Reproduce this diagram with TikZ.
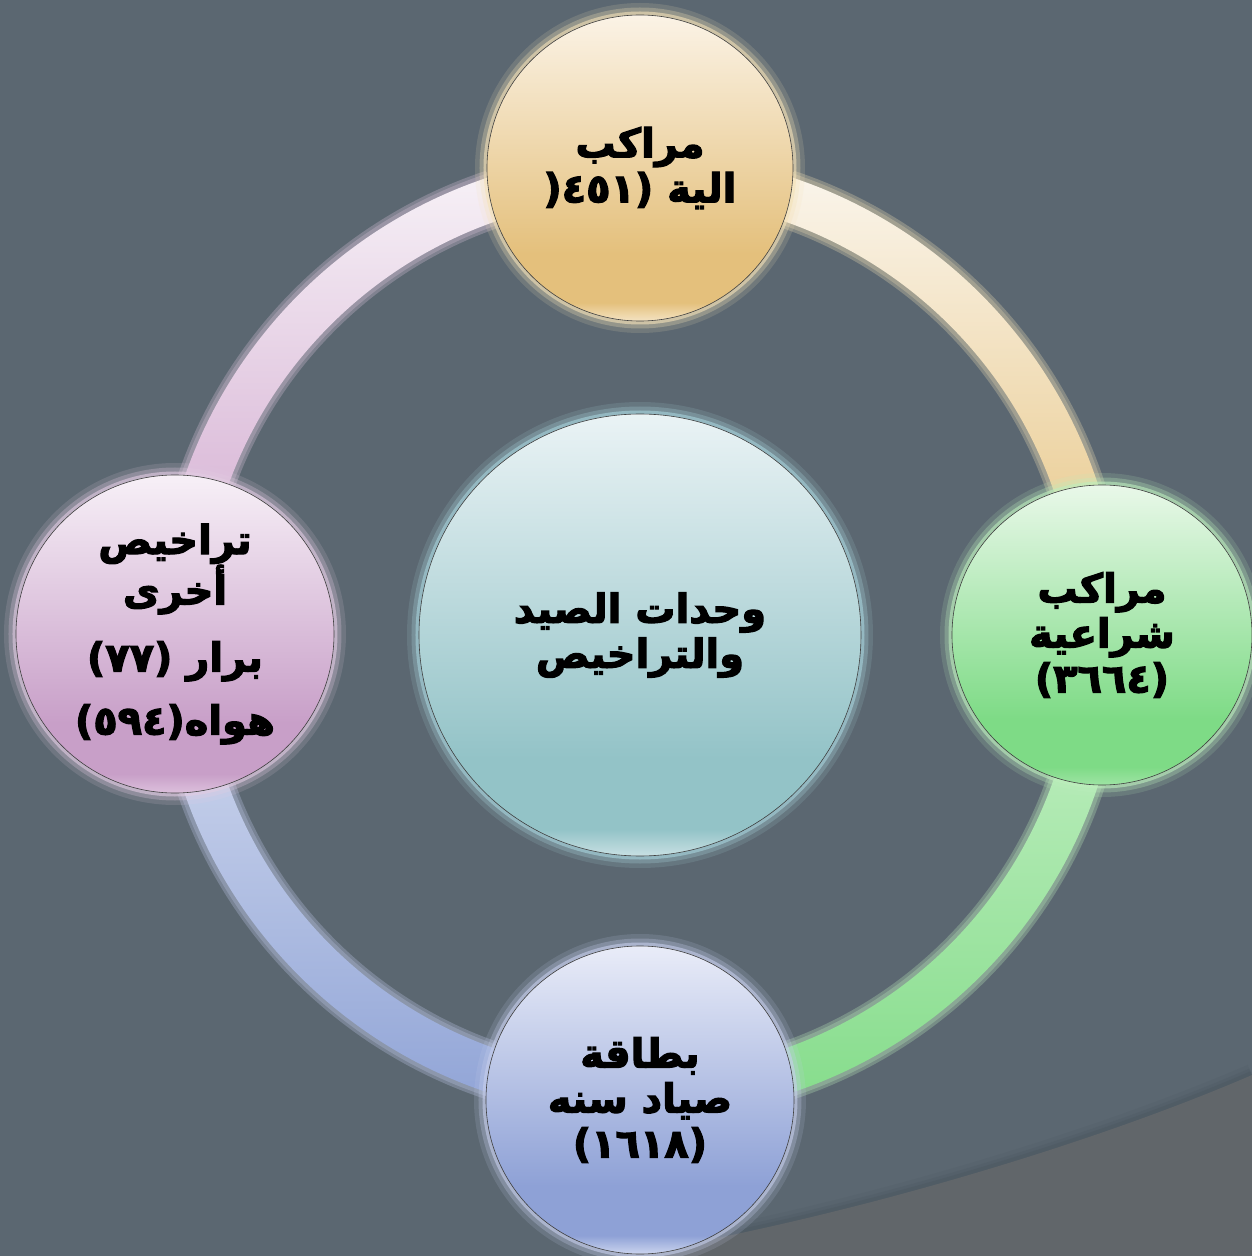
\documentclass[tikz,border=0pt]{standalone}
\usepackage{fontspec}
\newfontfamily\arabicfont[Script=Arabic,BoldFeatures={FakeBold=3}]{DejaVu Sans}
\TeXXeTstate=1
\usetikzlibrary{shapes}
\definecolor{slate}{HTML}{5B6771}
\definecolor{floor}{HTML}{61666A}
\definecolor{shadow}{HTML}{46515A}
% ring colours
\definecolor{goldA}{HTML}{FBF7F0}\definecolor{goldB}{HTML}{E6C27C}\definecolor{goldG}{HTML}{E8D8B0}
\definecolor{greenA}{HTML}{C8F1C8}\definecolor{greenB}{HTML}{84DC8A}\definecolor{greenG}{HTML}{B8E8B8}
\definecolor{blueA}{HTML}{D8DFF1}\definecolor{blueB}{HTML}{8FA3D6}\definecolor{blueG}{HTML}{BCC6E6}
\definecolor{pinkA}{HTML}{F8F4F8}\definecolor{pinkB}{HTML}{CFA3CC}\definecolor{pinkG}{HTML}{D8C2D8}
% unit colours: top, body, rim, glow
\definecolor{hubT}{HTML}{EAF3F5}\definecolor{hubB}{HTML}{93C3C7}\definecolor{hubR}{HTML}{C8E0E3}\definecolor{hubG}{HTML}{A8D4DC}
\definecolor{motT}{HTML}{FBF3E6}\definecolor{motB}{HTML}{E4C07C}\definecolor{motR}{HTML}{F4E3C2}\definecolor{motG}{HTML}{F4E2B8}
\definecolor{saiT}{HTML}{E9F8E9}\definecolor{saiB}{HTML}{7EDB86}\definecolor{saiR}{HTML}{9EE4A4}\definecolor{saiG}{HTML}{BDEEBD}
\definecolor{carT}{HTML}{E9ECF8}\definecolor{carB}{HTML}{8EA1D6}\definecolor{carR}{HTML}{CCD5EF}\definecolor{carG}{HTML}{C6CEEC}
\definecolor{othT}{HTML}{F7F0F7}\definecolor{othB}{HTML}{C89FC8}\definecolor{othR}{HTML}{DCC0DC}\definecolor{othG}{HTML}{E2CCE2}
\newcommand{\unitshading}[1]{\pgfdeclareverticalshading{#1shade}{100bp}{color(0bp)=(#1R); color(25bp)=(#1R);
        color(28bp)=(#1B); color(36bp)=(#1B); color(75bp)=(#1T); color(100bp)=(#1T)}}
\unitshading{hub}\unitshading{mot}\unitshading{sai}\unitshading{car}\unitshading{oth}

\begin{document}
\begin{tikzpicture}[x=1pt,y=1pt]
        \tikzset{unit/.style = {shape=circle,draw=black!75,line width=0.6,inner sep=0pt,align=center,
                font=\arabicfont\bfseries\fontsize{40}{45}\selectfont}}
        \tikzset{halo/.style = {preaction={draw=#1,line width=24,draw opacity=0.15},
                preaction={draw=#1,line width=15,draw opacity=0.28},
                preaction={draw=#1,line width=7,draw opacity=0.6}}}
        \tikzset{band/.style = {line width=#1,draw opacity=0.3}}
        % background
        \fill[slate] (-640,-621) rectangle (612,635);
        \useasboundingbox (-640,-621) rectangle (612,635);
        \foreach \w/\o in {22/0.12,14/0.18,8/0.25}
                \draw[shadow,line width=\w,opacity=\o] (-20,-621) .. controls (200,-585) and (450,-510) .. (612,-440);
        \fill[floor] (-20,-621) .. controls (200,-585) and (450,-510) .. (612,-440) -- (612,-621) -- cycle;
        % ring
        \foreach \w in {58,52} {
                \draw[band=\w,draw=goldG] (90:460) arc[start angle=90,end angle=0,radius=460];
                \draw[band=\w,draw=greenG] (0:460) arc[start angle=0,end angle=-90,radius=460];
                \draw[band=\w,draw=blueG] (-90:460) arc[start angle=-90,end angle=-180,radius=460];
                \draw[band=\w,draw=pinkG] (180:460) arc[start angle=180,end angle=90,radius=460];
        }
        \shade[top color=goldA,bottom color=goldB]
                (90:482) arc[start angle=90,end angle=0,radius=482] -- (0:438) arc[start angle=0,end angle=90,radius=438] -- cycle;
        \shade[top color=greenA,bottom color=greenB]
                (0:482) arc[start angle=0,end angle=-90,radius=482] -- (-90:438) arc[start angle=-90,end angle=0,radius=438] -- cycle;
        \shade[top color=blueA,bottom color=blueB]
                (-90:482) arc[start angle=-90,end angle=-180,radius=482] -- (180:438) arc[start angle=180,end angle=270,radius=438] -- cycle;
        \shade[top color=pinkA,bottom color=pinkB]
                (180:482) arc[start angle=180,end angle=90,radius=482] -- (90:438) arc[start angle=90,end angle=180,radius=438] -- cycle;
        % units
        \node[unit,minimum size=442,halo=hubG,shading=hubshade] (hub) at (0,0)
                {\beginR وحدات الصيد\endR\\\beginR والتراخيص\endR};
        \node[unit,minimum size=306,halo=motG,shading=motshade] (motor) at (0,467)
                {\beginR مراكب\endR\\\beginR الية \beginL(٤٥١(\endL\endR};
        \node[unit,minimum size=300,halo=saiG,shading=saishade] (sail) at (462,0)
                {\beginR مراكب\endR\\\beginR شراعية\endR\\\beginL(٣٦٦٤)\endL};
        \node[unit,minimum size=308,halo=carG,shading=carshade] (card) at (0,-465)
                {\beginR بطاقة\endR\\\beginR صياد سنه\endR\\\beginL(١٦١٨)\endL};
        \node[unit,minimum size=318,halo=othG,shading=othshade] (other) at (-465,1)
                {\beginR تراخيص\endR\\\beginR أخرى\endR\\[22pt]\beginR برار \beginL(٧٧)\endL\endR\\[18pt]\beginR هواه\beginL(٥٩٤)\endL\endR};
\end{tikzpicture}
\end{document}
